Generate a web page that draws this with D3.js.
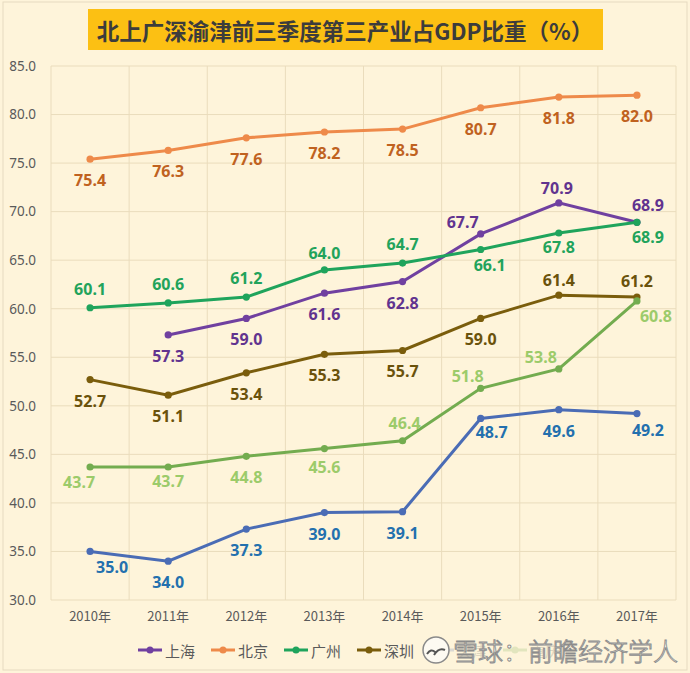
<!DOCTYPE html>
<html>
<head>
<meta charset="utf-8">
<script src="https://cdn.jsdelivr.net/npm/d3@7"></script>
<style>
  body { margin: 0; background: #fef4da; }
  svg { display: block; font-family: "Noto Sans", "Noto Sans CJK SC", sans-serif; }
</style>
</head>
<body>
<div class="chart"></div>
<script>
var width = 690, height = 673;

// data
var years = ["2010年", "2011年", "2012年", "2013年", "2014年", "2015年", "2016年", "2017年"];
var cities = ["上海", "北京", "广州", "深圳", "天津", "重庆"];
var shanghai  = [null, 57.3, 59.0, 61.6, 62.8, 67.7, 70.9, 68.9];
var beijing   = [75.4, 76.3, 77.6, 78.2, 78.5, 80.7, 81.8, 82.0];
var guangzhou = [60.1, 60.6, 61.2, 64.0, 64.7, 66.1, 67.8, 68.9];
var shenzhen  = [52.7, 51.1, 53.4, 55.3, 55.7, 59.0, 61.4, 61.2];
var tianjin   = [35.0, 34.0, 37.3, 39.0, 39.1, 48.7, 49.6, 49.2];
var chongqing = [43.7, 43.7, 44.8, 45.6, 46.4, 51.8, 53.8, 60.8];
var yTicks = [30, 35, 40, 45, 50, 55, 60, 65, 70, 75, 80, 85];

// styles and label placement (dx, dy from point)
var lineColors  = ["#7040a0", "#ee8a4a", "#1fa45c", "#7a5d0c", "#4a6cb5", "#73ac4f"];
var labelColors = ["#61338f", "#c0621f", "#22a35b", "#6a520b", "#2370ae", "#9ccb6a"];
var B = [0, 21], A = [0, -19];
var labelPos = [
  [null, B, B, B, B, [-18, -12], [-2, -15], [11, -17]],
  [B, B, B, B, B, B, B, B],
  [A, A, A, [0, -17], A, [9, 15], [0, 14], [11, 15]],
  [B, B, B, B, B, B, [0, -15], [0, -16]],
  [[22, 16], B, B, B, B, [11, 14], B, [11, 16]],
  [[-11, 15], [0, 14], B, [0, 18], [2, -18], [-13, -12], [-18, -12], [19, 15]]
];

var series = [shanghai, beijing, guangzhou, shenzhen, tianjin, chongqing];

var svg = d3.select(".chart").append("svg")
  .attr("width", width)
  .attr("height", height);

svg.append("rect")
  .attr("x", 3).attr("y", 2)
  .attr("width", 684).attr("height", 668)
  .attr("fill", "#fef4da")
  .attr("stroke", "#e6dac0");

// title
svg.append("rect")
  .attr("x", 88).attr("y", 9)
  .attr("width", 515).attr("height", 41)
  .attr("fill", "#fcc013");
svg.append("text")
  .attr("x", 345).attr("y", 30)
  .attr("text-anchor", "middle")
  .attr("dominant-baseline", "central")
  .attr("font-family", "'Noto Sans CJK SC', sans-serif")
  .attr("font-weight", 700)
  .attr("font-size", 22.5)
  .attr("fill", "#3c3c3c")
  .text("北上广深渝津前三季度第三产业占GDP比重（%）");

var plotLeft = 51, plotRight = 676, plotTop = 66, plotBottom = 600;

var x = d3.scaleBand().domain(years).range([plotLeft, plotRight]);
var y = d3.scaleLinear().domain([30, 85]).range([plotBottom, plotTop]);

// grid
svg.append("g")
  .selectAll("line")
  .data(yTicks)
  .join("line")
  .attr("x1", plotLeft).attr("x2", plotRight)
  .attr("y1", function (d) { return y(d); })
  .attr("y2", function (d) { return y(d); })
  .attr("stroke", "#eadcbc");

var bounds = years.map(function (d) { return x(d); }).concat([plotRight]);
svg.append("g")
  .selectAll("line")
  .data(bounds)
  .join("line")
  .attr("x1", function (d) { return d; })
  .attr("x2", function (d) { return d; })
  .attr("y1", plotTop).attr("y2", plotBottom)
  .attr("stroke", "#eadcbc");

// axes
var yAxis = svg.append("g")
  .attr("transform", "translate(" + plotLeft + ",0)")
  .call(d3.axisLeft(y).tickValues(yTicks).tickFormat(d3.format(".1f")).tickSize(0).tickPadding(15));
yAxis.select(".domain").remove();
yAxis.selectAll("text")
  .attr("font-size", 13.5)
  .attr("fill", "#5a5a5a")
  .attr("font-family", "'Noto Sans', sans-serif");

var xAxis = svg.append("g")
  .attr("transform", "translate(0," + plotBottom + ")")
  .call(d3.axisBottom(x).tickSize(0).tickPadding(12));
xAxis.select(".domain").remove();
xAxis.selectAll("text")
  .attr("font-size", 13)
  .attr("fill", "#5a5a5a")
  .attr("font-family", "'Noto Sans CJK SC', sans-serif");

// lines
var line = d3.line()
  .defined(function (d) { return d != null; })
  .x(function (d, i) { return x(years[i]) + x.bandwidth() / 2; })
  .y(function (d) { return y(d); });

series.forEach(function (vals, k) {
  var g = svg.append("g");
  g.append("path")
    .datum(vals)
    .attr("fill", "none")
    .attr("stroke", lineColors[k])
    .attr("stroke-width", 3)
    .attr("d", line);

  var pts = vals.map(function (v, i) { return { v: v, i: i }; })
    .filter(function (d) { return d.v != null; });

  g.selectAll("circle")
    .data(pts)
    .join("circle")
    .attr("cx", function (d) { return x(years[d.i]) + x.bandwidth() / 2; })
    .attr("cy", function (d) { return y(d.v); })
    .attr("r", 3.6)
    .attr("fill", lineColors[k]);

  g.selectAll("text")
    .data(pts)
    .join("text")
    .attr("x", function (d) { return x(years[d.i]) + x.bandwidth() / 2 + labelPos[k][d.i][0]; })
    .attr("y", function (d) { return y(d.v) + labelPos[k][d.i][1]; })
    .attr("text-anchor", "middle")
    .attr("dominant-baseline", "central")
    .attr("font-size", 16)
    .attr("font-weight", 700)
    .attr("fill", labelColors[k])
    .text(function (d) { return d3.format(".1f")(d.v); });
});

// legend
var legend = svg.append("g")
  .selectAll("g")
  .data(cities)
  .join("g")
  .attr("transform", function (d, i) { return "translate(" + (138 + i * 73) + ",650)"; });
legend.append("line")
  .attr("x1", 0).attr("x2", 24)
  .attr("stroke", function (d, i) { return lineColors[i]; })
  .attr("stroke-width", 3);
legend.append("circle")
  .attr("cx", 12).attr("r", 3.5)
  .attr("fill", function (d, i) { return lineColors[i]; });
legend.append("text")
  .attr("x", 27)
  .attr("dominant-baseline", "central")
  .attr("font-size", 15)
  .attr("font-family", "'Noto Sans CJK SC', sans-serif")
  .attr("fill", "#5a5a5a")
  .text(function (d) { return d; });

// watermark, laid over the last legend items as in the picture
var wm = svg.append("g");
wm.append("rect")
  .attr("x", 422).attr("y", 637)
  .attr("width", 262).attr("height", 27)
  .attr("fill", "#fef4da").attr("opacity", 0.8);
wm.append("circle")
  .attr("cx", 436).attr("cy", 650).attr("r", 13)
  .attr("fill", "#fdfaf2").attr("stroke", "#8a8a8a").attr("stroke-width", 1.5);
wm.append("path")
  .attr("d", "M427,654 q4,-6 8,-2 M434,655 q5,-8 11,-5")
  .attr("fill", "none").attr("stroke", "#555").attr("stroke-width", 2);
wm.append("text")
  .attr("x", 453).attr("y", 650)
  .attr("dominant-baseline", "central")
  .attr("font-family", "'Noto Sans CJK SC', sans-serif")
  .attr("font-size", 25)
  .attr("font-weight", 300)
  .attr("fill", "#fbf8f0")
  .attr("stroke", "#8c8c8c")
  .attr("stroke-width", 0.9)
  .text("雪球：前瞻经济学人");
</script>
</body>
</html>
